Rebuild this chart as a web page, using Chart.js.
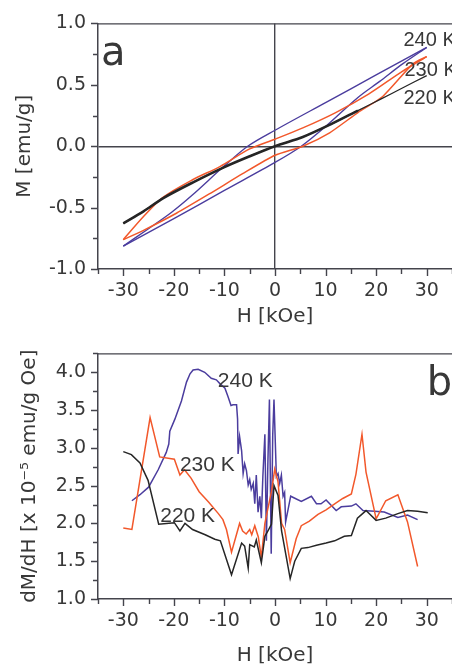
<!DOCTYPE html>
<html>
<head>
<meta charset="utf-8">
<title>M(H) loops and dM/dH</title>
<script src="https://cdn.jsdelivr.net/npm/chart.js@4.4.1/dist/chart.umd.min.js"></script>
<style>
  html, body { margin: 0; padding: 0; background: #fff; }
  #wrap { position: relative; width: 452px; height: 672px; overflow: hidden; }
  canvas { position: absolute; left: 0; display: block; }
  #cA { top: 0; }
  #cB { top: 330px; }
</style>
</head>
<body>
<div id="wrap">
  <canvas id="cA" width="452" height="330"></canvas>
  <canvas id="cB" width="452" height="342"></canvas>
</div>
<script>
// ---- panel a: hysteresis branches, H [kOe] vs M [emu/g] ----
// each loop split in a field-decreasing ("dn") and field-increasing ("up") branch
const H240dn = [30, 20, 10, 0, -5.4, -10, -16.4, -20.5, -25.3, -30];
const M240dn = [0.804, 0.58, 0.355, 0.13, 0.0, -0.16, -0.40, -0.54, -0.68, -0.814];
const H240up = [-30, -20, -10, 0, 5.2, 10, 16.4, 20.7, 25.3, 30];
const M240up = [-0.814, -0.59, -0.36, -0.132, 0.0, 0.16, 0.397, 0.528, 0.672, 0.804];

const H230dn = [30, 25.1, 18.5, 12, 5.5, 0, -5, -10.9, -16.2, -22.1, -26, -30];
const M230dn = [0.73, 0.607, 0.424, 0.274, 0.149, 0.057, -0.022, -0.166, -0.271, -0.415, -0.573, -0.761];
const H230up = [-30, -26, -19.5, -13, -6.4, 0, 5.5, 10.8, 16.4, 21.3, 27.3, 30];
const M230up = [-0.761, -0.685, -0.546, -0.389, -0.224, -0.074, 0.0, 0.109, 0.274, 0.405, 0.672, 0.73];

const H220dn = [30, 25, 21, 16.4, 11, 5.5, 0, -5, -10, -16, -22, -26, -30];
const M220dn = [0.575, 0.47, 0.385, 0.29, 0.178, 0.075, 0.0, -0.082, -0.17, -0.29, -0.42, -0.53, -0.628];
const H220up = [-30, -26, -22, -16, -10, -5, 0, 5.5, 11, 16.4];
const M220up = [-0.628, -0.53, -0.42, -0.29, -0.17, -0.082, 0.0, 0.075, 0.178, 0.29];

// ---- panel b: dM/dH [x 1e-5 emu/g Oe] ----
const H220b = [-30, -28.4, -26.7, -25.1, -23.0, -19.9, -18.8, -17.8, -16.3, -13.8, -11.9, -10.8, -8.6, -6.6, -6.0, -5.3, -5.0, -4.1, -3.7, -2.7, -2.0, -1.4, -0.7, -0.2, 0.6, 1.3, 3.0, 3.9, 5.2, 6.5, 8.2, 10.1, 11.8, 13.7, 15.1, 16.3, 18.0, 20.0, 21.9, 24.3, 26.2, 28.2, 30.2];
const D220b = [2.95, 2.91, 2.80, 2.57, 1.99, 2.01, 1.90, 2.00, 1.92, 1.85, 1.79, 1.77, 1.32, 1.74, 1.70, 1.41, 1.72, 1.69, 1.78, 1.48, 1.83, 1.90, 1.99, 2.50, 2.37, 1.90, 1.27, 1.50, 1.67, 1.68, 1.71, 1.74, 1.77, 1.83, 1.84, 2.07, 2.17, 2.04, 2.07, 2.13, 2.17, 2.16, 2.14];

const H230b = [-30, -28.3, -24.7, -22.8, -19.9, -18.8, -17.9, -16.6, -15.0, -13.1, -11.2, -10.3, -9.6, -8.6, -7.0, -6.4, -5.7, -5.0, -4.6, -4.0, -3.3, -2.7, -2.0, -1.4, -0.7, -0.05, 0.6, 1.3, 1.9, 3.0, 4.2, 5.2, 6.8, 8.5, 10.1, 11.8, 13.4, 15.1, 16.0, 17.2, 18.0, 20.0, 21.9, 24.3, 26.2, 28.2];
const D230b = [1.94, 1.92, 3.40, 2.88, 2.85, 2.64, 2.71, 2.60, 2.42, 2.28, 2.13, 2.05, 1.92, 1.62, 2.00, 1.90, 1.86, 1.92, 1.85, 1.97, 1.82, 1.55, 2.00, 2.20, 2.42, 2.72, 2.55, 2.00, 1.92, 1.48, 1.80, 1.97, 2.03, 2.12, 2.18, 2.26, 2.33, 2.39, 2.65, 3.18, 2.68, 2.06, 2.30, 2.38, 2.02, 1.43];

const H240b = [-28.3, -26.7, -25.0, -23.1, -21.5, -21.0, -20.8, -19.8, -18.5, -17.5, -16.8, -16.2, -15.2, -13.9, -12.6, -11.6, -10.9, -9.9, -9.3, -8.7, -8.3, -7.6, -7.4, -7.3, -7.0, -6.6, -6.3, -6.0, -5.65, -5.3, -5.0, -4.7, -4.3, -4.0, -3.7, -3.35, -3.0, -2.7, -2.4, -2.0, -1.7, -1.4, -1.1, -0.75, -0.45, -0.2, 0.27, 0.6, 0.93, 1.26, 1.6, 1.9, 2.1, 2.6, 3.1, 5.2, 7.2, 8.2, 9.1, 10.1, 12.1, 13.1, 15.1, 16.0, 17.4, 19.7, 21.6, 24.3, 26.2, 28.2];
const D240b = [2.30, 2.38, 2.48, 2.71, 2.94, 3.05, 3.22, 3.38, 3.62, 3.87, 3.98, 4.03, 4.04, 4.00, 3.92, 3.90, 3.85, 3.79, 3.68, 3.56, 3.57, 3.57, 3.38, 2.92, 3.15, 2.96, 2.66, 2.79, 2.70, 2.51, 2.58, 2.45, 2.53, 2.26, 2.64, 2.15, 2.36, 2.07, 2.62, 3.18, 1.77, 2.83, 3.64, 1.60, 3.17, 3.64, 2.62, 2.66, 2.53, 2.64, 2.36, 2.41, 2.02, 2.19, 2.36, 2.29, 2.36, 2.26, 2.26, 2.31, 2.17, 2.22, 2.23, 2.26, 2.17, 2.16, 2.15, 2.08, 2.11, 2.05];

// tick values
const xTicks = [-30, -20, -10, 0, 10, 20, 30];
const yTicksA = [-1.0, -0.5, 0.0, 0.5, 1.0];
const yTicksB = [1.0, 1.5, 2.0, 2.5, 3.0, 3.5, 4.0];

const WIDE = "'DejaVu Sans', Verdana, sans-serif";          // axis numbers, titles, panel letters
const NARROW = "'Liberation Sans', Arial, Helvetica, sans-serif"; // curve names
const INK = '#383838';
const AXIS = '#44444c';
const C240 = '#4b3d9e', C230 = '#f2582b', C220 = '#262626';

Chart.defaults.font.family = WIDE;

const pts = (hs, vs) => hs.map((h, i) => ({ x: h, y: vs[i] }));
const line = (hs, vs, color, width, tension) => ({
  data: pts(hs, vs), showLine: true, borderColor: color, backgroundColor: color,
  borderWidth: width, pointRadius: 0, tension: tension,
});

// outward major/minor ticks + top edge of the frame
const frameTicks = {
  id: 'frameTicks',
  afterDraw(chart, args, opts) {
    const { ctx, chartArea: a, scales: { x, y } } = chart;
    ctx.save();
    ctx.strokeStyle = AXIS;
    ctx.lineWidth = 1.4;
    ctx.beginPath();
    ctx.moveTo(a.left, a.top + 0.5);
    ctx.lineTo(a.right, a.top + 0.5);
    for (let v = x.min; v <= x.max + 1e-6; v += opts.xStep) {
      const px = Math.round(x.getPixelForValue(v)) + 0.5;
      const major = Math.abs(v % 10) < 1e-6;
      ctx.moveTo(px, a.bottom);
      ctx.lineTo(px, a.bottom + (major ? 7 : 5));
    }
    for (let v = y.min; v <= y.max + 1e-6; v += opts.yStep) {
      const py = Math.round(y.getPixelForValue(v)) + 0.5;
      const major = Math.abs(v * 2 - Math.round(v * 2)) < 1e-6;
      ctx.moveTo(a.left, py);
      ctx.lineTo(a.left - (major ? 7 : 5), py);
    }
    ctx.stroke();
    ctx.restore();
  }
};

// curve names and panel letters, placed in data coordinates
const panelText = {
  id: 'panelText',
  afterDraw(chart, args, opts) {
    const { ctx, scales: { x, y } } = chart;
    ctx.save();
    ctx.fillStyle = INK;
    for (const t of opts.items) {
      ctx.font = `${t.size}px ${t.family || NARROW}`;
      ctx.textAlign = 'left';
      ctx.textBaseline = t.baseline || 'middle';
      ctx.fillText(t.text, x.getPixelForValue(t.x), y.getPixelForValue(t.y));
    }
    ctx.restore();
  }
};

function panel(canvas, cfg) {
  return new Chart(canvas, {
    type: 'scatter',
    data: { datasets: cfg.datasets },
    plugins: [frameTicks, panelText],
    options: {
      responsive: false, animation: false,
      layout: { padding: { top: cfg.padTop, left: 0, right: 0, bottom: 0 } },
      plugins: {
        legend: { display: false }, tooltip: { enabled: false },
        frameTicks: { xStep: 5, yStep: 0.25 },
        panelText: { items: cfg.labels },
      },
      scales: {
        x: {
          type: 'linear', min: -35, max: 35,
          afterBuildTicks: (s) => { s.ticks = xTicks.map((v) => ({ value: v })); },
          afterFit: (s) => { s.height = cfg.xHeight; },
          grid: { drawTicks: false, lineWidth: 1.4,
            color: (c) => (cfg.zeroLines && c.tick && c.tick.value === 0) ? AXIS : 'rgba(0,0,0,0)' },
          border: { display: true, color: AXIS, width: 1.5 },
          ticks: { padding: 11, color: INK, font: { size: 19 }, maxRotation: 0,
            callback: (v) => String(v) },
          title: { display: true, text: 'H [kOe]', color: INK, font: { size: 20 },
            padding: { top: 0, bottom: cfg.xTitlePad } },
        },
        y: {
          type: 'linear', min: cfg.yMin, max: cfg.yMax,
          afterBuildTicks: (s) => { s.ticks = cfg.yTicks.map((v) => ({ value: v })); },
          afterFit: (s) => { s.width = 98; },
          grid: { drawTicks: false, lineWidth: 1.4,
            color: (c) => (cfg.zeroLines && c.tick && c.tick.value === 0) ? AXIS : 'rgba(0,0,0,0)' },
          border: { display: true, color: AXIS, width: 1.5 },
          ticks: { padding: 12, color: INK, font: { size: 19 },
            callback: (v) => Number(v).toFixed(1) },
          title: { display: true, text: cfg.yTitle, color: INK, font: { size: 20 },
            padding: { top: cfg.yTitlePad, bottom: 0 } },
        },
      },
    },
  });
}

panel(document.getElementById('cA'), {
  padTop: 15, xHeight: 61, xTitlePad: 1, yTitlePad: 13,
  yMin: -1, yMax: 1, yTicks: yTicksA, zeroLines: true,
  yTitle: 'M [emu/g]',
  datasets: [
    line(H220dn, M220dn, C220, 1.3, 0.3),
    line(H220up, M220up, C220, 2.6, 0.3),
    line(H230dn, M230dn, C230, 1.5, 0.3),
    line(H230up, M230up, C230, 1.5, 0.2),
    line(H240dn, M240dn, C240, 1.4, 0.3),
    line(H240up, M240up, C240, 1.4, 0.3),
  ],
  labels: [
    { text: '240 K', x: 25.4, y: 0.86, size: 20 },
    { text: '230 K', x: 25.6, y: 0.615, size: 20 },
    { text: '220 K', x: 25.4, y: 0.385, size: 20 },
    { text: 'a', x: -34.4, y: 0.66, size: 40, baseline: 'alphabetic', family: WIDE },
  ],
});

panel(document.getElementById('cB'), {
  padTop: 13, xHeight: 73, xTitlePad: 4, yTitlePad: 18,
  yMin: 1, yMax: 4.25, yTicks: yTicksB, zeroLines: false,
  yTitle: 'dM/dH [x 10\u207B\u2075 emu/g Oe]',
  datasets: [
    line(H220b, D220b, C220, 1.5, 0),
    line(H230b, D230b, C230, 1.5, 0),
    line(H240b, D240b, C240, 1.5, 0),
  ],
  labels: [
    { text: '240 K', x: -11.3, y: 3.88, size: 21 },
    { text: '230 K', x: -18.8, y: 2.775, size: 21 },
    { text: '220 K', x: -22.7, y: 2.10, size: 21 },
    { text: 'b', x: 30.0, y: 3.70, size: 40, baseline: 'alphabetic', family: WIDE },
  ],
});
</script>
</body>
</html>
